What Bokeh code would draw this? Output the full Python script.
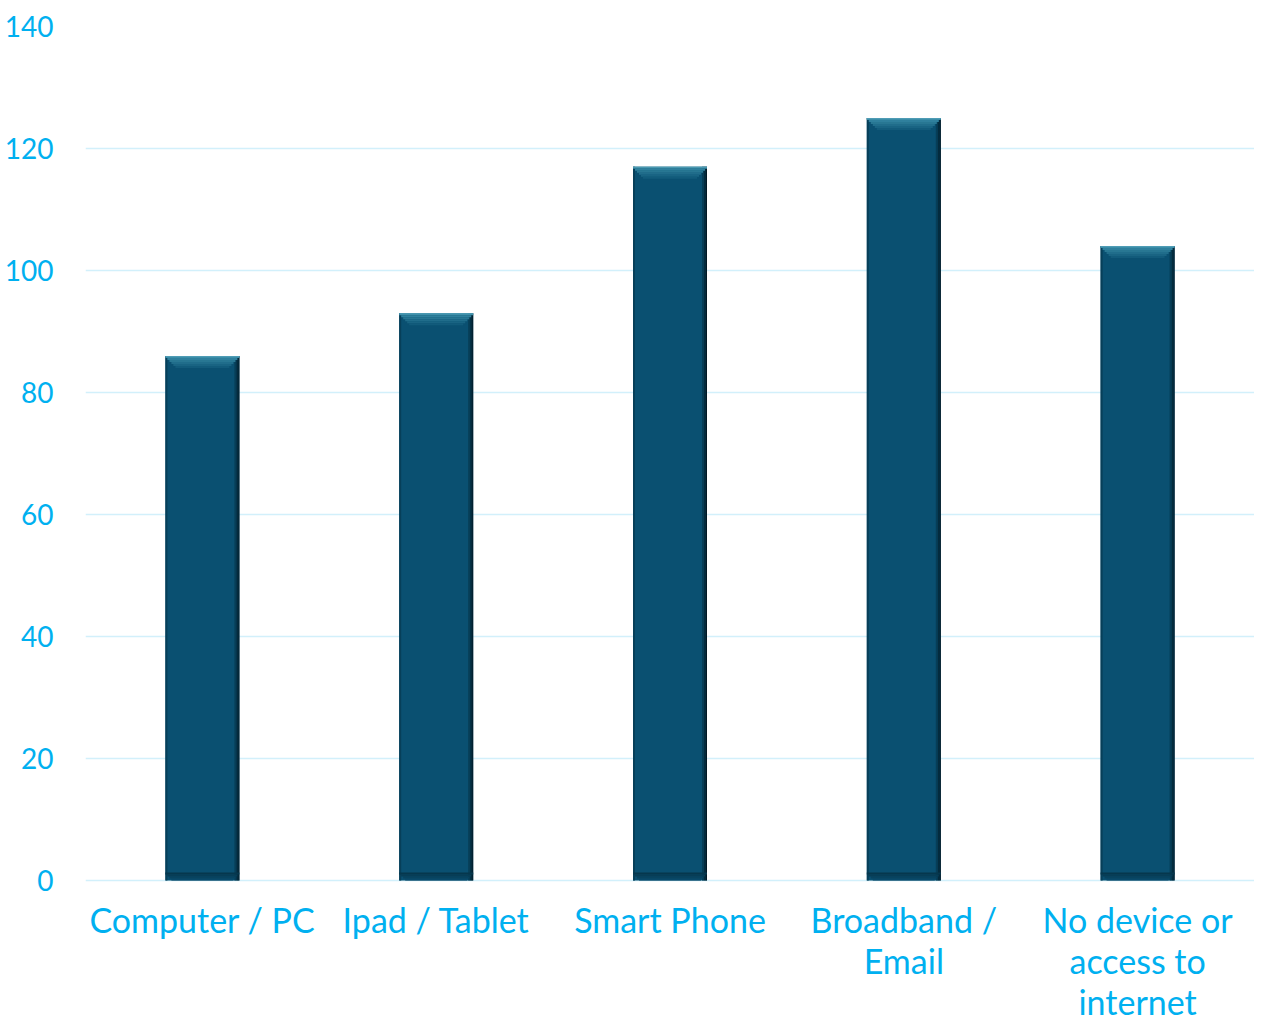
from bokeh.plotting import figure
from bokeh.models import ColumnDataSource, Range1d, FactorRange
from bokeh.transform import dodge
from bokeh.core.properties import value
from bokeh.embed import file_html
from bokeh.resources import INLINE

categories = ["Computer / PC", "Ipad / Tablet", "Smart Phone", "Broadband /\nEmail", "No device or\naccess to\ninternet"]
values = [86, 93, 117, 125, 104]
y_ticks = [0, 20, 40, 60, 80, 100, 120, 140]

TXT = "#00B0F0"
FONT = "Lato"
W_PX, H_PX = 1254, 1024
LEFT, TOP = 85, 26
ZERO_PX = 880            # screen row of value 0
PX_PER_UNIT = (ZERO_PX - TOP) / 140.0
Y_START = -(H_PX - ZERO_PX) / PX_PER_UNIT
CAT_PX = (W_PX - LEFT) / len(categories)
PX_X = 1.0 / CAT_PX      # one pixel in category units
PX_Y = 1.0 / PX_PER_UNIT # one pixel in value units

p = figure(width=W_PX, height=H_PX, x_range=FactorRange(*categories), y_range=Range1d(Y_START, 140),
           output_backend="svg", toolbar_location=None, x_axis_location=None,
           min_border_left=LEFT, min_border_right=0, min_border_top=TOP, min_border_bottom=0)
p.outline_line_color = None
p.background_fill_color = "white"
p.border_fill_color = "white"

p.yaxis.ticker = y_ticks
p.yaxis.axis_line_color = None
p.yaxis.major_tick_line_color = None
p.yaxis.minor_tick_line_color = None
p.yaxis.major_label_text_color = TXT
p.yaxis.major_label_text_font = FONT
p.yaxis.major_label_text_font_size = "28px"
p.yaxis.major_label_standoff = 26
p.ygrid.grid_line_color = "#D2F0FB"
p.ygrid.grid_line_width = 1.5
p.xgrid.grid_line_color = None


def layer(top_px_from_top, bot_px_from_top=None, bot_px_from_zero=None, top_px_from_zero=None,
          shift_px=0.0, width_px=74.0, color="#0B5273"):
    """Draw a strip of every bar; offsets in pixels relative to each bar's value/zero."""
    if top_px_from_top is not None:
        tops = [v - top_px_from_top * PX_Y for v in values]
    else:
        tops = [top_px_from_zero * PX_Y for v in values]
    if bot_px_from_top is not None:
        bots = [v - bot_px_from_top * PX_Y for v in values]
    else:
        bots = [bot_px_from_zero * PX_Y for v in values]
    s = ColumnDataSource(dict(cat=categories, t=tops, b=bots))
    p.vbar(x=dodge("cat", shift_px * PX_X, range=p.x_range), top="t", bottom="b",
           width=width_px * PX_X, source=s, fill_color=color, line_color=None)


# main body
layer(0, bot_px_from_zero=0, color="#0A5071")
# left edge
layer(0, bot_px_from_zero=0, shift_px=-36, width_px=2, color="#073F59")
# right edge gradient
layer(0, bot_px_from_zero=0, shift_px=33, width_px=2, color="#073E57")
layer(0, bot_px_from_zero=0, shift_px=35, width_px=2, color="#042B3D")
layer(0, bot_px_from_zero=0, shift_px=36.5, width_px=1, color="#021824")
# bottom bevel (trapezoid via narrowing strips)
bottom_cols = ["#09496A", "#08435F", "#073D56", "#06374D"]
for i, c in enumerate(bottom_cols):
    layer(None, bot_px_from_zero=2 * i, top_px_from_zero=2 * i + 2,
          width_px=74 - 2 * (8 - 2 * i - 2), color=c)
# top bevel (trapezoid, light at the top)
top_cols = ["#3C8EA9", "#2F809D", "#287793", "#206D8B", "#196483", "#125B7B"]
for i, c in enumerate(top_cols):
    layer(2 * i, bot_px_from_top=2 * i + 2, width_px=74 - 2 * (2 * i), color=c)
# thin top highlight line
layer(0, bot_px_from_top=1, width_px=74, color="#4F9CB5")

# category labels, line by line below the zero line
lines = [c.split("\n") for c in categories]
for k, off in enumerate([39, 80, 121]):
    xs = [categories[i] for i in range(len(categories)) if len(lines[i]) > k]
    ts = [lines[i][k] for i in range(len(categories)) if len(lines[i]) > k]
    ls = ColumnDataSource(dict(x=xs, y=[0] * len(xs), t=ts))
    p.text(x="x", y="y", text="t", source=ls, y_offset=off, text_align="center",
           text_baseline="alphabetic", text_color=TXT, text_font=value(FONT), text_font_size="34px")

open("out.html", "w").write(file_html(p, INLINE))
